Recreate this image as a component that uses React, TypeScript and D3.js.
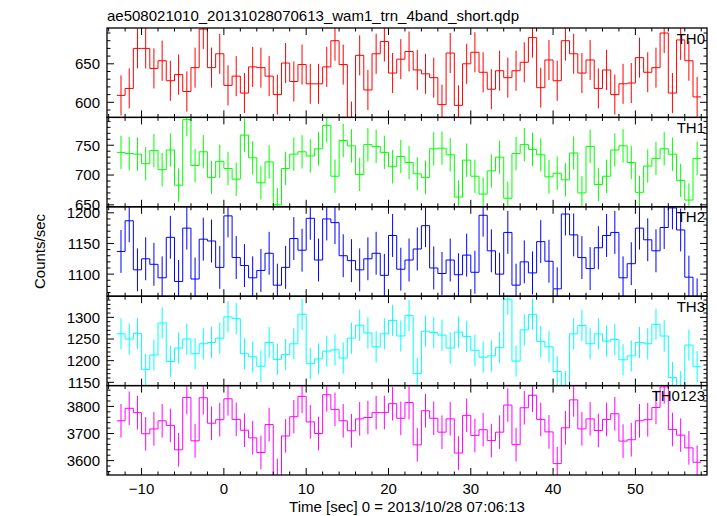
import React from "react";
import * as d3 from "d3";

const title = "ae508021010_20131028070613_wam1_trn_4band_short.qdp";
const xLabel = "Time [sec] 0 = 2013/10/28 07:06:13";
const yLabel = "Counts/sec";

const timeStart = -13;
const binSize = 1;

const th0 = [609,618,670,670,644,654,628,636,614,645,695,645,663,622,634,612,646,645,634,610,651,627,649,624,624,646,680,649,575,661,616,663,679,638,656,666,642,637,632,597,664,596,650,665,639,617,641,632,641,652,684,619,655,628,680,663,638,655,618,642,610,624,625,658,639,645,690,612,681,654,607];
const th1 = [738,736,735,719,741,709,742,683,793,716,739,696,723,711,693,767,729,687,722,650,711,735,739,732,744,783,698,758,749,701,751,748,738,714,731,721,702,696,744,745,734,663,725,698,668,707,730,661,736,751,743,734,697,703,692,737,670,748,684,698,742,749,721,671,715,728,744,735,691,658,728];
const th2 = [1137,1187,1107,1125,1116,1094,1160,1088,1175,1092,1157,1154,1111,1195,1127,1114,1094,1106,1134,1082,1111,1158,1139,1191,1123,1190,1184,1130,1122,1107,1125,1134,1098,1163,1108,1123,1141,1179,1110,1101,1123,1099,1131,1103,1196,1138,1100,1168,1082,1120,1102,1153,1121,1076,1198,1164,1127,1109,1143,1163,1168,1094,1117,1175,1156,1138,1176,1208,1172,1095,1058];
const th3 = [1262,1250,1263,1180,1213,1287,1198,1229,1250,1216,1239,1242,1252,1301,1297,1216,1209,1187,1242,1203,1214,1239,1307,1193,1204,1222,1225,1206,1252,1282,1264,1232,1262,1293,1257,1304,1170,1268,1265,1259,1229,1266,1256,1224,1208,1211,1230,1342,1199,1271,1307,1244,1232,1175,1140,1262,1281,1239,1262,1245,1249,1202,1211,1242,1239,1284,1257,1161,1140,1236,1186];
const th0123 = [3747,3793,3777,3699,3717,3747,3730,3640,3833,3673,3832,3738,3751,3828,3752,3712,3684,3630,3733,3545,3691,3762,3837,3743,3700,3843,3789,3747,3710,3754,3759,3777,3777,3810,3756,3814,3658,3784,3756,3705,3754,3628,3767,3693,3714,3674,3705,3805,3659,3795,3841,3752,3706,3589,3721,3824,3717,3754,3711,3752,3773,3672,3677,3747,3751,3796,3872,3715,3694,3647,3594];

const panelNames = ["TH0", "TH1", "TH2", "TH3", "TH0123"];
const panelColors = ["#ff0000", "#00ff00", "#0000ff", "#00ffff", "#ff00ff"];
const panelErrors = [26, 28, 35, 36, 62];
const yMins = [580.4, 646.7, 1064, 1142.4, 3547];
const yMaxs = [696.5, 796.7, 1209.8, 1348.9, 3876.7];
const yMajor = [50, 50, 50, 50, 100];
const yMinor = [10, 10, 10, 10, 20];
const seriesList = [th0, th1, th2, th3, th0123];

const xMin = -14.2;
const xMax = 58.7;
const xTicksMajor = [-10, 0, 10, 20, 30, 40, 50];

const W = 717, H = 516;
const left = 107, right = 707, top = 28, bottom = 475;
const font = "'Liberation Sans', Arial, sans-serif";

export default function App() {
  const x = d3.scaleLinear().domain([xMin, xMax]).range([left, right]);
  const ph = (bottom - top) / seriesList.length;
  const xMinorTicks = d3.range(-14, 59, 2);

  return (
    <svg width={W} height={H} style={{ display: "block", position: "absolute", left: 0, top: 0, background: "#fff" }}>
      <defs>
        {seriesList.map((_, i) => (
          <clipPath id={`clip${i}`} key={i}>
            <rect x={left} y={top + i * ph} width={right - left} height={ph} />
          </clipPath>
        ))}
      </defs>
      <text x={left} y={21} fontFamily={font} fontSize={15} fill="#000">{title}</text>
      {seriesList.map((vals, i) => {
        const y0 = top + i * ph;
        const y1 = y0 + ph;
        const y = d3.scaleLinear().domain([yMins[i], yMaxs[i]]).range([y1, y0]);
        const pts: [number, number][] = vals.map((v, k) => [timeStart + k * binSize, v]);
        pts.push([timeStart + vals.length * binSize, vals[vals.length - 1]]);
        const line = d3.line<[number, number]>().x(d => x(d[0])).y(d => y(d[1])).curve(d3.curveStepAfter);
        const majT = d3.range(Math.ceil(yMins[i] / yMajor[i]) * yMajor[i], yMaxs[i] + 0.001, yMajor[i]);
        const minT = d3.range(Math.ceil(yMins[i] / yMinor[i]) * yMinor[i], yMaxs[i] + 0.001, yMinor[i]);
        return (
          <g key={i}>
            <g clipPath={`url(#clip${i})`}>
              {vals.map((v, k) => {
                const cx = x(timeStart + (k + 0.5) * binSize);
                return <line key={k} x1={cx} x2={cx} y1={y(v - panelErrors[i])} y2={y(v + panelErrors[i])} stroke={panelColors[i]} strokeWidth={1} />;
              })}
              <path d={line(pts) || ""} fill="none" stroke={panelColors[i]} strokeWidth={1} />
            </g>
            <rect x={left} y={y0} width={right - left} height={ph} fill="none" stroke="#000" strokeWidth={1.3} />
            {xMinorTicks.map(t => {
              const isMaj = t % 10 === 0;
              const L = isMaj ? 7 : 3.5;
              return (
                <g key={"xt" + t}>
                  <line x1={x(t)} x2={x(t)} y1={y1} y2={y1 - L} stroke="#000" strokeWidth={1} />
                  <line x1={x(t)} x2={x(t)} y1={y0} y2={y0 + L} stroke="#000" strokeWidth={1} />
                </g>
              );
            })}
            {minT.map(t => {
              const isMaj = Math.abs(t % yMajor[i]) < 1e-6;
              const L = isMaj ? 7 : 3.5;
              return (
                <g key={"yt" + t}>
                  <line x1={left} x2={left + L} y1={y(t)} y2={y(t)} stroke="#000" strokeWidth={1} />
                  <line x1={right} x2={right - L} y1={y(t)} y2={y(t)} stroke="#000" strokeWidth={1} />
                </g>
              );
            })}
            {majT.map(t => (
              <text key={"yl" + t} x={100} y={y(t)} dy="0.36em" textAnchor="end" fontFamily={font} fontSize={15} fill="#000">{t}</text>
            ))}
            <text x={705} y={y0 + 15.5} textAnchor="end" fontFamily={font} fontSize={15} fill="#000">{panelNames[i]}</text>
          </g>
        );
      })}
      {xTicksMajor.map(t => (
        <text key={"xl" + t} x={x(t)} y={494} textAnchor="middle" fontFamily={font} fontSize={15} fill="#000">{t < 0 ? "\u2212" + Math.abs(t) : t}</text>
      ))}
      <text x={(left + right) / 2} y={512} textAnchor="middle" fontFamily={font} fontSize={15} fill="#000">{xLabel}</text>
      <text transform={`translate(45, ${(top + bottom) / 2}) rotate(-90)`} textAnchor="middle" fontFamily={font} fontSize={15} fill="#000">{yLabel}</text>
    </svg>
  );
}
